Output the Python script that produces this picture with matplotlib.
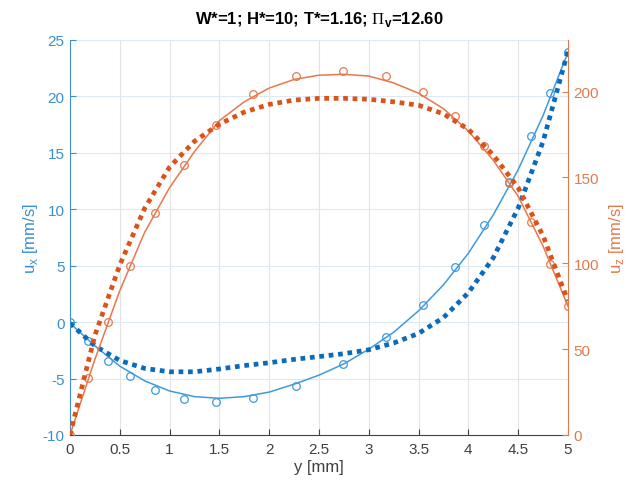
import numpy as np
import matplotlib
matplotlib.use("Agg")
import matplotlib.pyplot as plt

# measured points (circles), y in mm
y_meas = [0, 0.18, 0.38, 0.60, 0.85, 1.14, 1.47, 1.84, 2.27, 2.74, 3.17,
          3.54, 3.87, 4.16, 4.41, 4.63, 4.82, 5.0]
ux_meas = [0.0, -1.7, -3.4, -4.8, -6.05, -6.85, -7.1, -6.75, -5.65, -3.75,
           -1.3, 1.5, 4.9, 8.6, 12.4, 16.5, 20.3, 23.95]
uz_meas = [0, 33, 66, 98.4, 129.3, 157.3, 180.5, 198.3, 208.9, 212, 208.9,
           199.8, 185.7, 168.3, 147, 124, 99.3, 75.2]

# fitted curves (solid) and model (dotted), read at fixed y
y_curve = [0, 0.25, 0.5, 0.75, 1.0, 1.25, 1.5, 1.75, 2.0, 2.25, 2.5,
           2.75, 3.0, 3.25, 3.5, 3.75, 4.0, 4.25, 4.5, 4.75, 5.0]
ux_fit = [-0.1, -2.1, -3.9, -5.2, -6.1, -6.6, -6.75, -6.6, -6.2, -5.5, -4.7,
          -3.7, -2.4, -0.9, 1.0, 3.3, 6.1, 9.5, 13.5, 18.3, 23.9]
uz_fit = [0, 44, 84, 118, 144, 165, 183, 194, 202, 207, 209.5,
          210, 209, 205, 199, 190, 177, 160, 139, 110, 75]
ux_model = [-0.1, -2.1, -3.4, -4.1, -4.4, -4.4, -4.15, -3.85, -3.6, -3.3, -3.05,
            -2.8, -2.45, -1.85, -1.0, 0.4, 2.6, 5.7, 10.1, 16.0, 24.0]
uz_model = [0, 58, 99, 132, 156, 171, 181, 188, 192.5, 195, 196,
            196, 195.5, 194, 192, 187, 178, 163, 144, 116, 78]

plt.rcParams["font.family"] = ["Liberation Sans", "DejaVu Sans"]
plt.rcParams["axes.unicode_minus"] = False
plt.rcParams["mathtext.fontset"] = "custom"
plt.rcParams["mathtext.rm"] = "Liberation Serif"
plt.rcParams["mathtext.sf"] = "Liberation Sans"
plt.rcParams["mathtext.bf"] = "Liberation Sans:bold"

blue_ax = "#3A8FD0"
blue_fit = "#3F9ADB"
blue_mod = "#0A6BBD"
orng_ax = "#E27A4C"
orng_fit = "#E8784A"
orng_mod = "#D9531A"

fig = plt.figure(figsize=(6.39, 4.89), dpi=100)
ax = fig.add_axes([0.1095, 0.1084, 0.7793, 0.8078])
ax2 = ax.twinx()

ax.plot(y_curve, ux_fit, color=blue_fit, lw=1.1)
ax.plot(y_meas, ux_meas, "o", mfc="none", mec=blue_fit, ms=5.5, mew=0.9)
ax.plot(y_curve, ux_model, color=blue_mod, lw=3.4, ls=(0, (1, 1)))

ax2.plot(y_curve, uz_fit, color=orng_fit, lw=1.1)
ax2.plot(y_meas, uz_meas, "o", mfc="none", mec=orng_fit, ms=5.5, mew=0.9)
ax2.plot(y_curve, uz_model, color=orng_mod, lw=3.4, ls=(0, (1, 1)))

ax.set_xlim(0, 5)
ax.set_ylim(-10, 25)
ax2.set_ylim(0, 230)
ax.set_xticks(np.arange(0, 5.01, 0.5))
ax.set_xticklabels(["0", "0.5", "1", "1.5", "2", "2.5", "3", "3.5", "4", "4.5", "5"])
ax.set_yticks(np.arange(-10, 26, 5))
ax2.set_yticks(np.arange(0, 201, 50))

# grid: vertical gray, horizontal light blue (left axis)
for xv in np.arange(0.5, 5.0, 0.5):
    ax.axvline(xv, color="#E3E3E3", lw=0.8, zorder=0)
for yv in np.arange(-5, 26, 5):
    ax.axhline(yv, color="#DCEAF6", lw=0.8, zorder=0)

for s in ["top"]:
    ax.spines[s].set_visible(False)
    ax2.spines[s].set_visible(False)
ax.spines["left"].set_color(blue_ax)
ax.spines["right"].set_visible(False)
ax2.spines["left"].set_visible(False)
ax2.spines["right"].set_color(orng_ax)
ax.spines["bottom"].set_color("#404040")
ax2.spines["bottom"].set_visible(False)

ax.tick_params(axis="x", direction="in", colors="#404040", labelsize=11, length=4, pad=5)
ax.tick_params(axis="y", direction="in", colors=blue_ax, labelsize=11, length=4, pad=4)
ax2.tick_params(axis="y", direction="in", colors=orng_ax, labelsize=11, length=4, pad=4)

ax.set_xlabel("y [mm]", fontsize=12, color="#404040", labelpad=2)
ax.set_ylabel(r"u$_\mathsf{x}$ [mm/s]", fontsize=12, color=blue_ax, labelpad=2)
ax2.set_ylabel(r"u$_\mathsf{z}$ [mm/s]", fontsize=12, color=orng_ax, labelpad=6,
               rotation=90)
ax.set_title(r"W*=1; H*=10; T*=1.16; $\Pi_\mathbf{v}$=12.60", fontsize=12,
             fontweight="bold", pad=12)

fig.savefig("out.png", dpi=100)
